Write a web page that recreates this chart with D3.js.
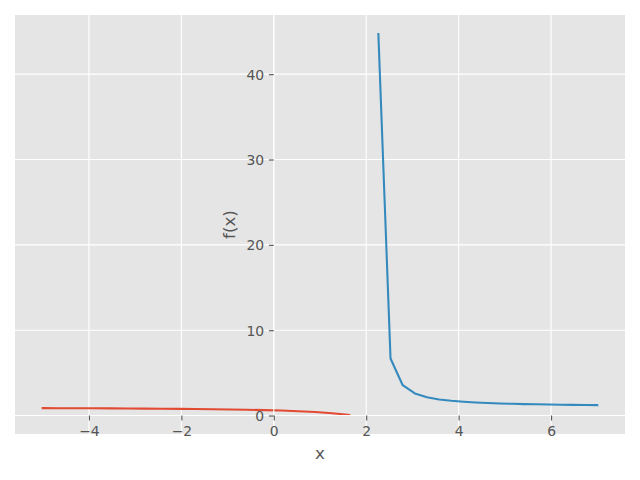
<!DOCTYPE html>
<html>
<head>
<meta charset="utf-8">
<script src="https://cdn.jsdelivr.net/npm/d3@7"></script>
<style>
html, body { margin: 0; padding: 0; background: #ffffff; }
svg { display: block; }
</style>
</head>
<body>
<svg id="chart" width="640" height="480"></svg>
<script>
// Left branch (x < 2)
const leftX = [-5.0000, -4.6316, -4.2632, -3.8947, -3.5263, -3.1579, -2.7895, -2.4211, -2.0526, -1.6842,
               -1.3158, -0.9474, -0.5789, -0.2105, 0.1579, 0.5263, 0.8947, 1.2632, 1.6316];
const leftY = [0.8669, 0.8600, 0.8524, 0.8440, 0.8345, 0.8238, 0.8116, 0.7976, 0.7813, 0.7623,
               0.7396, 0.7123, 0.6786, 0.6361, 0.5811, 0.5073, 0.4046, 0.2574, 0.0663];
// Right branch (x > 2)
const rightX = [2.2632, 2.5263, 2.7895, 3.0526, 3.3158, 3.5789, 3.8421, 4.1053, 4.3684, 4.6316,
                4.8947, 5.1579, 5.4211, 5.6842, 5.9474, 6.2105, 6.4737, 6.7368, 7.0000];
const rightY = [44.701, 6.6859, 3.5490, 2.5857, 2.1383, 1.8839, 1.7209, 1.6080, 1.5253, 1.4623,
                1.4126, 1.3726, 1.3395, 1.3118, 1.2883, 1.2681, 1.2505, 1.2350, 1.2214];
const xTicks = [-4, -2, 0, 2, 4, 6];
const yTicks = [0, 10, 20, 30, 40];
const xLabel = "x";
const yLabel = "f(x)";

const svg = d3.select("#chart");
const L = 15, R = 625, T = 15, B = 434;

const allX = leftX.concat(rightX), allY = leftY.concat(rightY);
const [x0, x1] = d3.extent(allX), [y0, y1] = d3.extent(allY);
const px = (x1 - x0) * 0.05, py = (y1 - y0) * 0.05;
const x = d3.scaleLinear().domain([x0 - px, x1 + px]).range([L, R]);
const y = d3.scaleLinear().domain([y0 - py, y1 + py]).range([B, T]);

// background
svg.append("rect").attr("x", L).attr("y", T).attr("width", R - L).attr("height", B - T).attr("fill", "#E5E5E5");

// grid
const grid = svg.append("g").attr("stroke", "#ffffff").attr("stroke-width", 1.1);
xTicks.forEach(t => grid.append("line").attr("x1", x(t)).attr("x2", x(t)).attr("y1", T).attr("y2", B));
yTicks.forEach(t => grid.append("line").attr("y1", y(t)).attr("y2", y(t)).attr("x1", L).attr("x2", R));

// lines
const line = d3.line().x(d => x(d[0])).y(d => y(d[1]));
svg.append("path").datum(leftX.map((v, i) => [v, leftY[i]]))
  .attr("d", line).attr("fill", "none").attr("stroke", "#E24A33").attr("stroke-width", 2.08)
  .attr("stroke-linejoin", "round").attr("stroke-linecap", "square");
svg.append("path").datum(rightX.map((v, i) => [v, rightY[i]]))
  .attr("d", line).attr("fill", "none").attr("stroke", "#348ABD").attr("stroke-width", 2.08)
  .attr("stroke-linejoin", "round").attr("stroke-linecap", "square");

// spines at zero (white)
svg.append("line").attr("x1", x(0)).attr("x2", x(0)).attr("y1", T).attr("y2", B).attr("stroke", "#ffffff").attr("stroke-width", 1.1);
svg.append("line").attr("x1", L).attr("x2", R).attr("y1", y(0)).attr("y2", y(0)).attr("stroke", "#ffffff").attr("stroke-width", 1.1);

// axes through zero using d3 axes
const fmt = d => (d < 0 ? "\u2212" + Math.abs(d) : String(d));
const xAxis = d3.axisBottom(x).tickValues(xTicks).tickFormat(fmt).tickSizeInner(4.86).tickSizeOuter(0).tickPadding(4.86);
const yAxis = d3.axisLeft(y).tickValues(yTicks).tickFormat(fmt).tickSizeInner(4.86).tickSizeOuter(0).tickPadding(4.86);

const gx = svg.append("g").attr("transform", `translate(0,${y(0)})`).call(xAxis);
const gy = svg.append("g").attr("transform", `translate(${x(0)},0)`).call(yAxis);
[gx, gy].forEach(g => {
  g.select(".domain").remove();
  g.selectAll(".tick line").attr("stroke", "#555555").attr("stroke-width", 1.1);
  g.selectAll(".tick text").attr("fill", "#555555").attr("font-family", "DejaVu Sans").attr("font-size", "13.9px");
});
gx.selectAll(".tick text").attr("dy", null).attr("y", 20);
gy.selectAll(".tick text").attr("dy", "0.36em");

// axis labels
svg.append("text").attr("x", (L + R) / 2).attr("y", 459).attr("text-anchor", "middle")
  .attr("font-family", "DejaVu Sans").attr("font-size", "16.7px").attr("fill", "#555555").text(xLabel);
svg.append("text").attr("transform", `translate(235,${(T + B) / 2}) rotate(-90)`).attr("text-anchor", "middle")
  .attr("font-family", "DejaVu Sans").attr("font-size", "16.7px").attr("fill", "#555555").text(yLabel);
</script>
</body>
</html>
